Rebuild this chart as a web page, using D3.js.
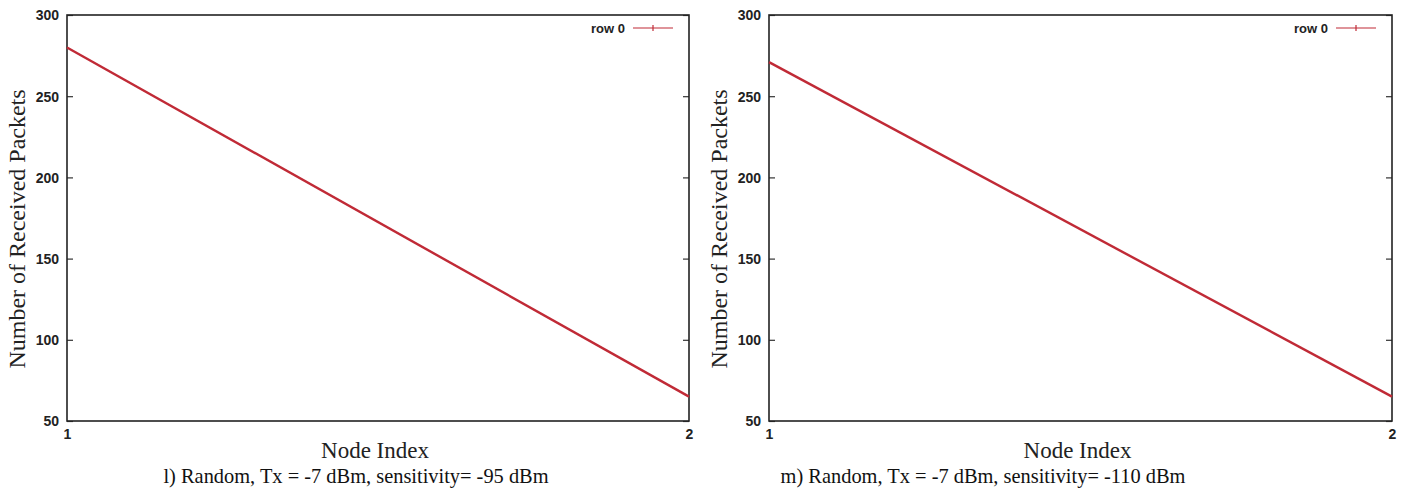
<!DOCTYPE html>
<html>
<head>
<meta charset="utf-8">
<script src="https://cdn.jsdelivr.net/npm/d3@7"></script>
<style>
  html, body { margin: 0; padding: 0; background: #fff; }
  svg { display: block; }
</style>
</head>
<body>
<svg id="chart" width="1407" height="494"></svg>
<script>
// ---- data ----
const nodeIndex = [1, 2];
const receivedL = [280, 65];   // l) sensitivity -95 dBm
const receivedM = [271, 65];   // m) sensitivity -110 dBm
const yTicks = [50, 100, 150, 200, 250, 300];
const xTicks = [1, 2];
const seriesName = "row 0";
const captions = [
  "l) Random, Tx = -7 dBm, sensitivity= -95 dBm",
  "m) Random, Tx = -7 dBm, sensitivity= -110 dBm"
];
const xLabel = "Node Index";
const yLabel = "Number of Received Packets";

const svg = d3.select("#chart");
const lineColor = "#c02a36";
const tickFont = "'Liberation Sans', Arial, sans-serif";
const serif = "'Liberation Serif', 'Times New Roman', serif";

const panels = [
  { left: 67, right: 689, top: 15, bottom: 421, values: receivedL, caption: captions[0], capX: 356, ylabX: 25 },
  { left: 769, right: 1392, top: 15, bottom: 421, values: receivedM, caption: captions[1], capX: 983, ylabX: 727 }
];

panels.forEach(p => {
  const g = svg.append("g");
  const x = d3.scaleLinear().domain([1, 2]).range([p.left, p.right]);
  const y = d3.scaleLinear().domain([50, 300]).range([p.bottom, p.top]);

  // inward ticks left and right
  const yAxisL = d3.axisRight(y).tickValues(yTicks).tickSize(6).tickFormat("");
  const yAxisR = d3.axisLeft(y).tickValues(yTicks).tickSize(6).tickFormat("");
  g.append("g").attr("transform", `translate(${p.left},0)`).call(yAxisL)
    .call(a => a.select(".domain").remove())
    .call(a => a.selectAll("line").attr("stroke", "#333").attr("stroke-width", 1.2));
  g.append("g").attr("transform", `translate(${p.right},0)`).call(yAxisR)
    .call(a => a.select(".domain").remove())
    .call(a => a.selectAll("line").attr("stroke", "#333").attr("stroke-width", 1.2));

  // y tick labels
  const yLab = d3.axisLeft(y).tickValues(yTicks).tickSize(0).tickPadding(8);
  g.append("g").attr("transform", `translate(${p.left},0)`).call(yLab)
    .call(a => a.select(".domain").remove())
    .call(a => a.selectAll("text").attr("font-family", tickFont).attr("font-size", 14)
      .attr("font-weight", "bold").attr("fill", "#222").attr("dy", "0.35em"));

  // x tick labels
  const xAxis = d3.axisBottom(x).tickValues(xTicks).tickSize(0).tickPadding(8).tickFormat(d3.format("d"));
  g.append("g").attr("transform", `translate(0,${p.bottom})`).call(xAxis)
    .call(a => a.select(".domain").remove())
    .call(a => a.selectAll("text").attr("font-family", tickFont).attr("font-size", 14)
      .attr("font-weight", "bold").attr("fill", "#222"));

  // frame
  g.append("rect")
    .attr("x", p.left).attr("y", p.top)
    .attr("width", p.right - p.left).attr("height", p.bottom - p.top)
    .attr("fill", "none").attr("stroke", "#222").attr("stroke-width", 1.6);

  // line
  const line = d3.line().x((d, i) => x(nodeIndex[i])).y(d => y(d));
  g.append("path").datum(p.values)
    .attr("d", line).attr("fill", "none")
    .attr("stroke", lineColor).attr("stroke-width", 2.4);

  // legend
  const lx = p.right - 56, ly = p.top + 13;
  g.append("text").attr("x", lx - 8).attr("y", ly).attr("dy", "0.35em")
    .attr("text-anchor", "end").attr("font-family", tickFont).attr("font-size", 13)
    .attr("font-weight", "bold").attr("fill", "#222").text(seriesName);
  g.append("line").attr("x1", lx).attr("x2", lx + 40).attr("y1", ly).attr("y2", ly)
    .attr("stroke", lineColor).attr("stroke-width", 1.2);
  g.append("line").attr("x1", lx + 20).attr("x2", lx + 20).attr("y1", ly - 3).attr("y2", ly + 3)
    .attr("stroke", lineColor).attr("stroke-width", 1.2);

  // axis labels
  g.append("text").attr("x", (p.left + p.right) / 2 - 3).attr("y", 458)
    .attr("text-anchor", "middle").attr("font-family", serif).attr("font-size", 23)
    .attr("fill", "#222").text(xLabel);
  g.append("text").attr("transform", `translate(${p.ylabX},229) rotate(-90)`)
    .attr("text-anchor", "middle").attr("font-family", serif).attr("font-size", 24)
    .attr("fill", "#222").text(yLabel);

  // caption
  g.append("text").attr("x", p.capX).attr("y", 483)
    .attr("text-anchor", "middle").attr("font-family", serif).attr("font-size", 20.4)
    .attr("fill", "#111").text(p.caption);
});
</script>
</body>
</html>
